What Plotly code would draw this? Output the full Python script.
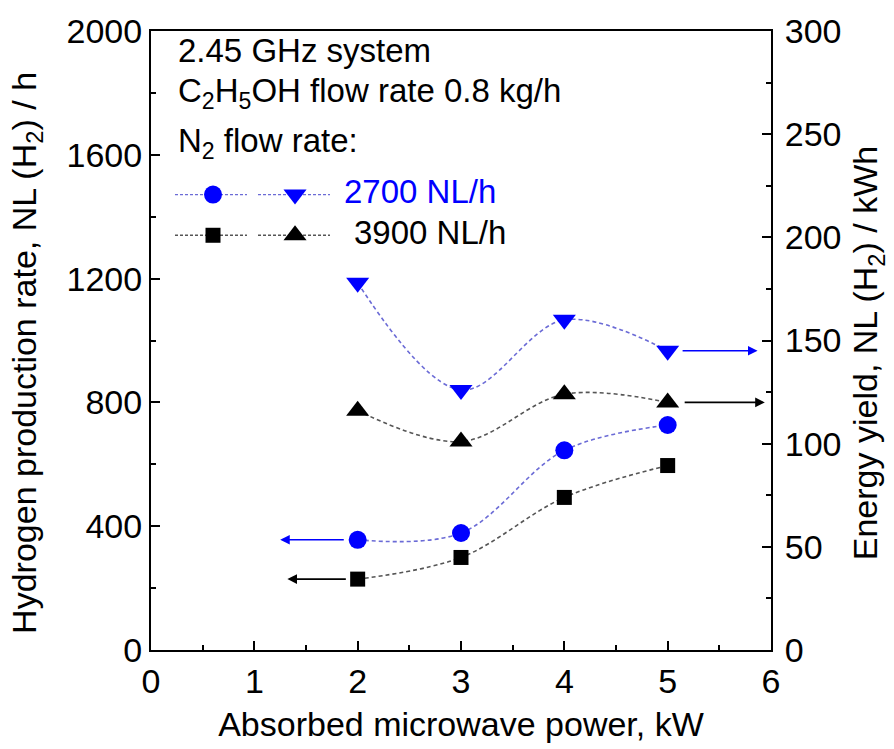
import plotly.graph_objects as go

# Absorbed microwave power, kW
power = [2, 3, 4, 5]

# Hydrogen production rate, NL(H2)/h  (left axis)
rate_2700 = [356, 378, 645, 727]
rate_3900 = [229, 299, 493, 596]

# Energy yield, NL(H2)/kWh  (right axis)
yield_2700 = [178, 126, 160, 145]
yield_3900 = [116, 101, 124, 120]

BLUE = "#0000ff"
BLUE_LINE = "#6b6bd6"
BLACK = "#000000"
GREY_LINE = "#555555"
FONT = "Liberation Sans, Arial, sans-serif"
FS = 34      # tick labels and axis titles
FS_TXT = 33  # header and key text

fig = go.Figure()

def series(x, y, color, line_color, symbol, size, yaxis):
    fig.add_trace(go.Scatter(
        x=x, y=y, mode="lines+markers", yaxis=yaxis, showlegend=False,
        line=dict(color=line_color, width=1.6, dash="4px,3px", shape="spline", smoothing=1),
        marker=dict(symbol=symbol, size=size, color=color, line=dict(width=0)),
        cliponaxis=False,
    ))

series(power, rate_2700, BLUE, BLUE_LINE, "circle", 18, "y")
series(power, rate_3900, BLACK, GREY_LINE, "square", 15, "y")
series(power, yield_2700, BLUE, BLUE_LINE, "triangle-down", 20, "y2")
series(power, yield_3900, BLACK, GREY_LINE, "triangle-up", 20, "y2")

# Legend key drawn on an invisible overlay axis (0..1 in both directions)
key_rows = [
    (0.7357, BLUE, BLUE_LINE, "circle", 18, "triangle-down", 20, "2700 NL/h", 0.308),
    (0.670, BLACK, GREY_LINE, "square", 15, "triangle-up", 20, "3900 NL/h", 0.324),
]
for ky, col, lcol, s1, z1, s2, z2, label, tx in key_rows:
    for (x0, x1, xm, sym, sz) in [(0.0387, 0.1548, 0.100, s1, z1), (0.1726, 0.2887, 0.2323, s2, z2)]:
        fig.add_trace(go.Scatter(
            x=[x0, x1], y=[ky, ky], mode="lines", xaxis="x3", yaxis="y3", showlegend=False,
            line=dict(color=lcol, width=1.3, dash="3px,2px"), hoverinfo="skip"))
        fig.add_trace(go.Scatter(
            x=[xm], y=[ky], mode="markers", xaxis="x3", yaxis="y3", showlegend=False,
            marker=dict(symbol=sym, size=sz, color=col), hoverinfo="skip"))
    fig.add_annotation(x=tx, y=ky, xref="x3", yref="y3", text=label, showarrow=False,
                       xanchor="left", yanchor="middle", yshift=3,
                       font=dict(family=FONT, size=FS_TXT, color=col))

# Header text
header = [
    ("2.45 GHz system", 0.969),
    ("C<sub>2</sub>H<sub>5</sub>OH flow rate 0.8 kg/h", 0.900),
    ("N<sub>2</sub> flow rate:", 0.819),
]
for txt, hy in header:
    fig.add_annotation(x=0.040, y=hy, xref="paper", yref="paper", text=txt, showarrow=False,
                       xanchor="left", yanchor="middle",
                       font=dict(family=FONT, size=FS_TXT, color=BLACK))

# Rotated axis titles
fig.add_annotation(x=-0.20, y=0.48, xref="paper", yref="paper", textangle=-90,
                   text="Hydrogen production rate, NL (H<sub>2</sub>) / h", showarrow=False,
                   xanchor="center", yanchor="middle", font=dict(family=FONT, size=FS, color=BLACK))
fig.add_annotation(x=1.157, y=0.48, xref="paper", yref="paper", textangle=-90,
                   text="Energy yield, NL (H<sub>2</sub>) / kWh", showarrow=False,
                   xanchor="center", yanchor="middle", font=dict(family=FONT, size=FS, color=BLACK))

# Arrows pointing to the relevant axis
def arrow(x_tip, x_tail, y, yref, color):
    fig.add_annotation(x=x_tip, y=y, ax=x_tail, ay=y, xref="x", yref=yref,
                       axref="x", ayref=yref, text="", showarrow=True,
                       arrowhead=2, arrowsize=1.2, arrowwidth=1.6, arrowcolor=color)

arrow(1.25, 1.88, rate_2700[0], "y", BLUE)
arrow(1.32, 1.90, rate_3900[0], "y", BLACK)
arrow(5.87, 5.13, yield_2700[-1], "y2", BLUE)
arrow(5.94, 5.15, yield_3900[-1], "y2", BLACK)

axis_common = dict(
    showline=True, linecolor="black", linewidth=2,
    ticks="inside", ticklen=9, tickwidth=2, tickcolor="black",
    showgrid=False, zeroline=False,
    tickfont=dict(family=FONT, size=FS, color="black"),
)

fig.update_layout(
    width=894, height=749,
    margin=dict(l=151, r=123, t=23, b=98),
    plot_bgcolor="white", paper_bgcolor="white",
    font=dict(family=FONT, size=FS, color="black"),
    xaxis=dict(range=[0, 6], dtick=1, mirror=True,
               minor=dict(dtick=0.5, ticks="inside", ticklen=5, tickwidth=2, tickcolor="black"),
               title=dict(text="Absorbed microwave power, kW", font=dict(family=FONT, size=FS), standoff=13),
               **axis_common),
    yaxis=dict(range=[0, 2000], dtick=400,
               minor=dict(dtick=200, ticks="inside", ticklen=5, tickwidth=2, tickcolor="black"),
               **axis_common),
    yaxis2=dict(range=[0, 300], dtick=50, overlaying="y", side="right", ticklabelstandoff=5,
                minor=dict(dtick=25, ticks="inside", ticklen=5, tickwidth=2, tickcolor="black"),
                **axis_common),
    xaxis3=dict(range=[0, 1], overlaying="x", visible=False),
    yaxis3=dict(range=[0, 1], overlaying="y", visible=False),
)

fig.write_html("out.html")
